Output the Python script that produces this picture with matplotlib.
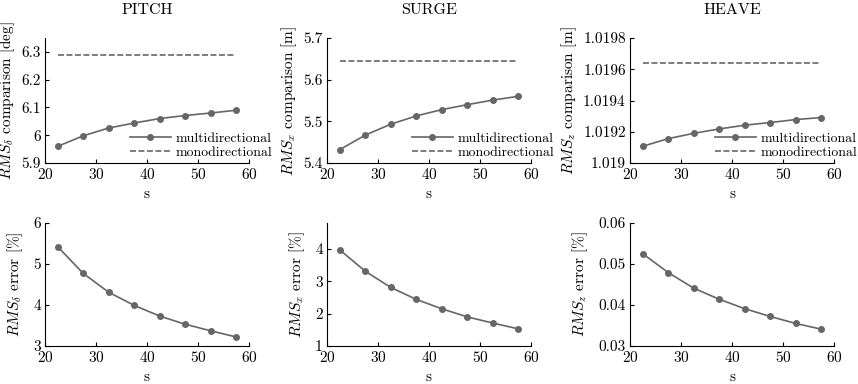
import matplotlib
matplotlib.use("Agg")
import matplotlib.pyplot as plt
from matplotlib.ticker import FuncFormatter

plt.rcParams["font.family"] = "serif"
plt.rcParams["font.serif"] = ["cmr10"]
plt.rcParams["mathtext.fontset"] = "cm"
plt.rcParams["axes.formatter.use_mathtext"] = True
plt.rcParams["lines.scale_dashes"] = False

# eixo x comum
s = [22.5, 27.5, 32.5, 37.5, 42.5, 47.5, 52.5, 57.5]

# linha de cima: comparacao multidirecional x monodirecional
pitch_multi = [5.960, 5.998, 6.026, 6.044, 6.060, 6.071, 6.080, 6.090]
pitch_mono = 6.288
surge_multi = [5.432, 5.467, 5.493, 5.513, 5.528, 5.540, 5.551, 5.560]
surge_mono = 5.645
heave_multi = [1.019107, 1.019156, 1.019190, 1.019218, 1.019242, 1.019259, 1.019278, 1.019291]
heave_mono = 1.019640

# linha de baixo: erro percentual
pitch_err = [5.42, 4.77, 4.31, 3.99, 3.73, 3.53, 3.37, 3.22]
surge_err = [3.97, 3.31, 2.81, 2.44, 2.15, 1.90, 1.71, 1.53]
heave_err = [0.0525, 0.0479, 0.0441, 0.0414, 0.0391, 0.0372, 0.0355, 0.0341]

titles = ["PITCH", "SURGE", "HEAVE"]
top_ylabels = [r"$RMS_\delta$ comparison [deg]", r"$RMS_x$ comparison [m]", r"$RMS_z$ comparison [m]"]
bot_ylabels = [r"$RMS_\delta$ error [%]", r"$RMS_x$ error [%]", r"$RMS_z$ error [%]"]
top_ylims = [(5.9, 6.35), (5.4, 5.7), (1.019, 1.0198)]
top_yticks = [[5.9, 6.0, 6.1, 6.2, 6.3], [5.4, 5.5, 5.6, 5.7],
              [1.019, 1.0192, 1.0194, 1.0196, 1.0198]]
bot_ylims = [(3, 6), (1, 4.8), (0.03, 0.06)]
bot_yticks = [[3, 4, 5, 6], [1, 2, 3, 4], [0.03, 0.04, 0.05, 0.06]]

multi = [pitch_multi, surge_multi, heave_multi]
mono = [pitch_mono, surge_mono, heave_mono]
errs = [pitch_err, surge_err, heave_err]

gray = "#666666"
fig = plt.figure(figsize=(8.58, 3.84), dpi=100)
lefts = [45 / 858, 327 / 858, 630 / 858]
w = 204 / 858

fmt = FuncFormatter(lambda v, p: "%g" % v)


def style(ax):
    ax.spines["top"].set_visible(False)
    ax.spines["right"].set_visible(False)
    ax.tick_params(direction="in", length=3, labelsize=11, width=0.8, pad=3)
    ax.set_xlim(20, 60)
    ax.set_xticks([20, 30, 40, 50, 60])
    ax.yaxis.set_major_formatter(fmt)
    ax.set_xlabel("s", fontsize=11, labelpad=4)


for i in range(3):
    ax = fig.add_axes([lefts[i], 1 - 163 / 384, w, 125 / 384])
    ax.plot(s, multi[i], "-o", color=gray, lw=1.2, ms=4, label="multidirectional")
    ax.plot([s[0], s[-1]], [mono[i], mono[i]], color=gray, lw=1.2, dashes=(4.3, 1.8),
            label="monodirectional")
    style(ax)
    ax.set_ylim(*top_ylims[i])
    ax.set_yticks(top_yticks[i])
    ax.set_title(titles[i], fontsize=11.5, pad=17)
    ax.set_ylabel(top_ylabels[i], fontsize=11, labelpad=3)
    ax.legend(loc="lower left", bbox_to_anchor=(0.355, -0.065), frameon=False, fontsize=9.9,
              handlelength=3.0, labelspacing=0.08, handletextpad=0.35)

    ax2 = fig.add_axes([lefts[i], 1 - 346 / 384, w, 123 / 384])
    ax2.plot(s, errs[i], "-o", color=gray, lw=1.2, ms=4)
    style(ax2)
    ax2.set_ylim(*bot_ylims[i])
    ax2.set_yticks(bot_yticks[i])
    ax2.set_ylabel(bot_ylabels[i], fontsize=11, labelpad=6)

fig.savefig("out.png", dpi=100)
